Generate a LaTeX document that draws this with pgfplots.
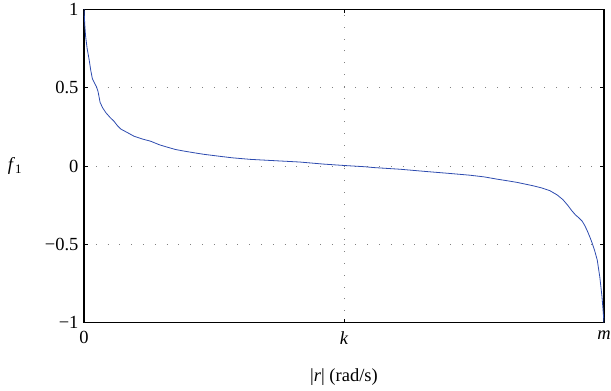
\documentclass[border=0pt]{standalone}
\usepackage{fontspec}
\setmainfont{Liberation Serif}
\usepackage{pgfplots}
\pgfplotsset{compat=1.18}
\definecolor{curve}{RGB}{45,75,175}
\newcommand{\bigf}{\fontsize{18.5}{22}\selectfont}
\begin{document}
\begin{tikzpicture}[x=1pt,y=1pt,font=\bigf]
\useasboundingbox (-84,-68.3) rectangle (527,322.7);
\begin{axis}[
  at={(0,0)}, anchor=south west,
  scale only axis, width=520pt, height=313.5pt,
  xmin=0, xmax=1, ymin=-1, ymax=1,
  xtick={0,0.5,1}, xticklabels={{\bigf 0},{\bigf\itshape k},{\bigf\itshape m}},
  ytick={-1,-0.5,0,0.5,1}, yticklabels={{\bigf −1},{\bigf −0.5},{\bigf 0},{\bigf 0.5},{\bigf 1}},
  tick align=inside, major tick length=4pt,
  grid=major,
  grid style={gray, line width=0.8pt, dash pattern=on 0.8pt off 11pt},
  axis line style={line width=1.1pt},
  every tick/.style={black, line width=0.8pt},
  xticklabel style={yshift=-5pt, inner xsep=0pt},
  yticklabel style={xshift=-2pt, inner ysep=0pt},
  xlabel={\bigf |\textit{r}| (rad/s)},
  xlabel style={at={(axis description cs:0.5,0)}, anchor=center, yshift=-54pt},
  ylabel={\bigf\textit{f}\textsubscript{1}},
  ylabel style={at={(axis description cs:0,0.5)}, rotate=-90, anchor=center, xshift=-69pt},
]
\addplot[curve, line width=0.8pt, mark=none] coordinates {
(0,1.0)
(0.0008,0.95)
(0.0015,0.90)
(0.003,0.83)
(0.006,0.75)
(0.0096,0.684)
(0.013,0.61)
(0.016,0.558)
(0.020,0.53)
(0.024,0.505)
(0.027,0.475)
(0.029,0.44)
(0.031,0.405)
(0.036,0.37)
(0.042,0.34)
(0.05,0.31)
(0.058,0.284)
(0.064,0.258)
(0.071,0.235)
(0.085,0.21)
(0.096,0.19)
(0.112,0.172)
(0.128,0.158)
(0.145,0.135)
(0.160,0.12)
(0.176,0.105)
(0.192,0.095)
(0.21,0.085)
(0.231,0.074)
(0.26,0.062)
(0.285,0.052)
(0.32,0.042)
(0.37,0.033)
(0.415,0.025)
(0.46,0.012)
(0.5,0.003)
(0.54,-0.005)
(0.556,-0.01)
(0.608,-0.021)
(0.66,-0.036)
(0.704,-0.048)
(0.742,-0.059)
(0.77,-0.07)
(0.794,-0.084)
(0.815,-0.095)
(0.833,-0.105)
(0.863,-0.126)
(0.88,-0.14)
(0.896,-0.158)
(0.91,-0.185)
(0.921,-0.215)
(0.930,-0.25)
(0.938,-0.285)
(0.945,-0.312)
(0.952,-0.332)
(0.958,-0.352)
(0.963,-0.38)
(0.968,-0.415)
(0.973,-0.455)
(0.977,-0.49)
(0.982,-0.54)
(0.987,-0.60)
(0.992,-0.71)
(0.996,-0.83)
(0.998,-0.91)
(1.0,-1.0)
};
\end{axis}
\end{tikzpicture}
\end{document}
